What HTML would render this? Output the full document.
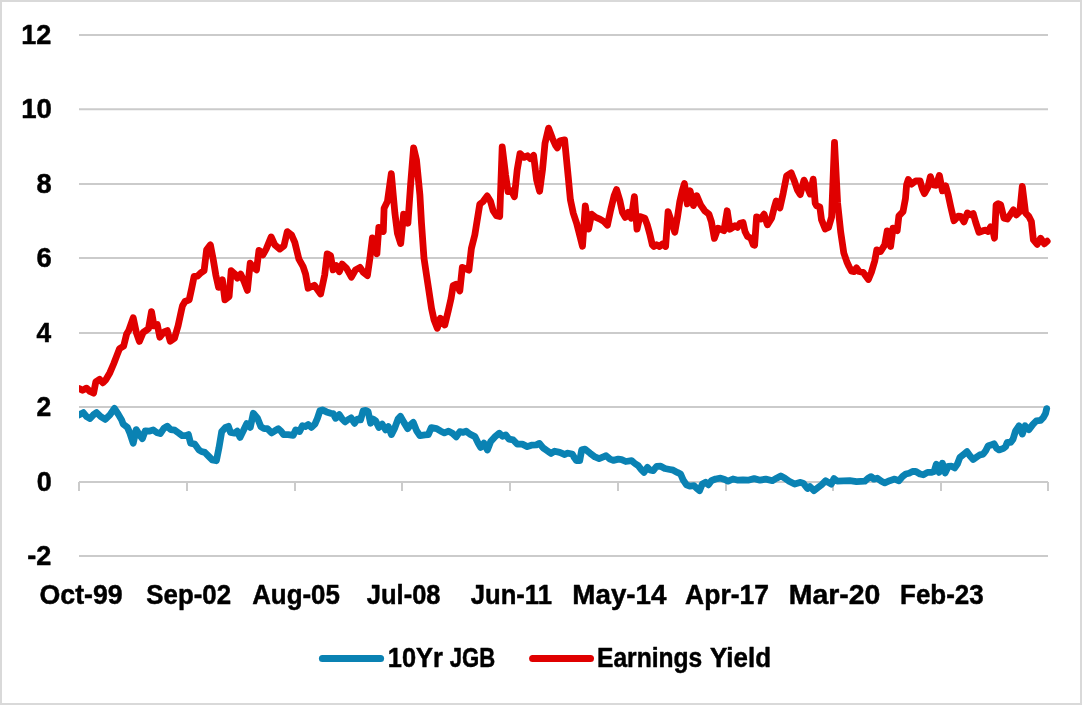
<!DOCTYPE html>
<html lang="en"><head><meta charset="utf-8"><title>10Yr JGB vs Earnings Yield</title>
<style>
html,body{margin:0;padding:0;background:#fff;}
body{width:1082px;height:705px;overflow:hidden;}
svg{display:block;}
text{font-family:"Liberation Sans",sans-serif;font-weight:bold;fill:#000;stroke:#000;stroke-width:0.5px;stroke-linejoin:round;}
</style></head><body>
<svg width="1082" height="705" viewBox="0 0 1082 705">
<defs><clipPath id="plot"><rect x="79" y="0" width="990" height="705"/></clipPath></defs>
<rect x="0" y="0" width="1082" height="705" fill="#fff"/>
<rect x="1" y="1" width="1080" height="703" fill="none" stroke="#d9d9d9" stroke-width="2"/>
<g stroke="#cbcbcb" stroke-width="2" fill="none">
<line x1="79" y1="34.9" x2="1048" y2="34.9"/>
<line x1="79" y1="109.3" x2="1048" y2="109.3"/>
<line x1="79" y1="184.1" x2="1048" y2="184.1"/>
<line x1="79" y1="258.0" x2="1048" y2="258.0"/>
<line x1="79" y1="332.9" x2="1048" y2="332.9"/>
<line x1="79" y1="407.0" x2="1048" y2="407.0"/>
<line x1="79" y1="481.9" x2="1048" y2="481.9"/>
<line x1="79" y1="556.0" x2="1048" y2="556.0"/>
<line x1="79.0" y1="481.9" x2="79.0" y2="491"/>
<line x1="187.0" y1="481.9" x2="187.0" y2="491"/>
<line x1="295.0" y1="481.9" x2="295.0" y2="491"/>
<line x1="402.0" y1="481.9" x2="402.0" y2="491"/>
<line x1="510.0" y1="481.9" x2="510.0" y2="491"/>
<line x1="618.0" y1="481.9" x2="618.0" y2="491"/>
<line x1="726.0" y1="481.9" x2="726.0" y2="491"/>
<line x1="833.0" y1="481.9" x2="833.0" y2="491"/>
<line x1="941.0" y1="481.9" x2="941.0" y2="491"/>
<line x1="1048.0" y1="481.9" x2="1048.0" y2="491"/>
</g>
<g>
<text x="21.19" y="43.70" font-size="27.3" textLength="30.11" lengthAdjust="spacingAndGlyphs">12</text>
<text x="21.16" y="118.23" font-size="27.3" textLength="30.66" lengthAdjust="spacingAndGlyphs">10</text>
<text x="36.43" y="192.76" font-size="27.3" textLength="15.17" lengthAdjust="spacingAndGlyphs">8</text>
<text x="36.49" y="267.29" font-size="27.3" textLength="15.25" lengthAdjust="spacingAndGlyphs">6</text>
<text x="36.45" y="341.82" font-size="27.3" textLength="14.66" lengthAdjust="spacingAndGlyphs">4</text>
<text x="36.52" y="416.35" font-size="27.3" textLength="14.72" lengthAdjust="spacingAndGlyphs">2</text>
<text x="36.77" y="490.88" font-size="27.3" textLength="14.99" lengthAdjust="spacingAndGlyphs">0</text>
<text x="27.17" y="565.41" font-size="27.3" textLength="24.04" lengthAdjust="spacingAndGlyphs">-2</text>
</g>
<g>
<text x="39.53" y="604.30" font-size="28.2" textLength="83.18" lengthAdjust="spacingAndGlyphs">Oct-99</text>
<text x="146.27" y="604.30" font-size="28.2" textLength="84.80" lengthAdjust="spacingAndGlyphs">Sep-02</text>
<text x="252.20" y="604.30" font-size="28.2" textLength="87.68" lengthAdjust="spacingAndGlyphs">Aug-05</text>
<text x="366.87" y="604.30" font-size="28.2" textLength="73.65" lengthAdjust="spacingAndGlyphs">Jul-08</text>
<text x="470.77" y="604.30" font-size="28.2" textLength="81.10" lengthAdjust="spacingAndGlyphs">Jun-11</text>
<text x="572.35" y="604.30" font-size="28.2" textLength="94.06" lengthAdjust="spacingAndGlyphs">May-14</text>
<text x="685.09" y="604.30" font-size="28.2" textLength="83.92" lengthAdjust="spacingAndGlyphs">Apr-17</text>
<text x="788.80" y="604.30" font-size="28.2" textLength="91.55" lengthAdjust="spacingAndGlyphs">Mar-20</text>
<text x="900.06" y="604.30" font-size="28.2" textLength="83.68" lengthAdjust="spacingAndGlyphs">Feb-23</text>
</g>
<g fill="none" stroke-width="6.8" stroke-linejoin="round" stroke-linecap="round" clip-path="url(#plot)">
<path d="M79.2 414.9 L83.3 412.6 L86.6 416.6 L90.0 418.6 L93.3 414.9 L96.6 412.6 L100.8 416.6 L105.3 419.4 L109.9 414.9 L114.4 408.3 L118.2 414.1 L121.6 419.9 L123.2 424.1 L127.4 427.4 L129.9 433.2 L133.2 443.2 L136.2 429.6 L139.0 434.1 L142.4 438.6 L145.2 430.8 L149.0 431.2 L153.2 429.9 L156.5 432.4 L160.3 433.6 L164.0 428.2 L167.3 426.3 L170.7 429.6 L174.8 430.2 L179.0 433.2 L182.3 435.7 L185.6 435.7 L188.4 434.6 L190.6 443.2 L194.8 444.1 L198.9 449.9 L201.4 451.5 L204.8 452.4 L208.9 456.5 L212.2 459.9 L216.4 460.7 L218.9 448.2 L221.7 431.6 L225.6 427.4 L228.4 426.3 L230.5 432.4 L234.7 433.2 L237.2 431.2 L240.0 437.4 L243.3 430.8 L246.7 423.6 L250.3 427.4 L253.3 413.3 L257.5 418.3 L260.8 426.6 L264.1 428.6 L267.4 428.6 L271.6 432.9 L274.9 430.8 L278.3 428.8 L281.3 431.6 L283.6 434.6 L288.2 434.6 L293.2 435.4 L295.7 429.9 L299.6 431.6 L302.4 425.8 L305.2 426.6 L308.2 424.6 L311.5 427.4 L314.9 424.1 L317.4 418.3 L319.9 410.8 L322.4 409.9 L326.5 411.9 L330.7 413.3 L333.2 413.6 L335.7 418.3 L339.3 414.6 L342.3 419.1 L345.1 421.9 L348.1 419.6 L351.1 417.9 L354.5 423.3 L357.3 419.1 L360.6 419.9 L363.1 410.8 L365.6 410.4 L368.1 411.6 L370.6 423.3 L373.1 419.1 L375.6 420.8 L378.9 427.4 L382.2 424.1 L385.6 429.9 L388.4 426.6 L391.4 434.6 L394.7 428.2 L398.0 419.1 L400.5 416.3 L403.9 422.4 L407.7 428.6 L410.5 424.9 L413.3 422.4 L416.6 430.8 L420.0 435.7 L425.0 434.9 L428.3 434.6 L431.3 427.6 L436.6 428.6 L440.8 431.2 L444.4 432.9 L448.6 431.2 L452.4 433.2 L456.2 436.9 L459.9 431.6 L463.2 432.4 L466.2 431.2 L469.9 434.1 L474.9 436.6 L478.2 443.2 L480.7 447.4 L484.0 443.2 L487.4 449.9 L490.7 441.6 L494.8 436.9 L499.3 433.2 L502.3 436.2 L505.7 434.9 L509.0 439.1 L513.1 439.9 L517.3 444.1 L522.3 444.1 L527.3 446.6 L531.4 445.2 L536.4 444.9 L539.4 443.4 L543.1 447.9 L547.2 450.7 L551.1 453.5 L554.7 451.2 L559.7 452.4 L564.7 454.5 L567.2 453.2 L572.2 454.0 L574.7 458.2 L576.4 460.7 L579.7 460.7 L581.7 449.9 L585.0 449.2 L590.0 453.2 L595.0 456.9 L599.1 458.6 L603.3 456.9 L606.1 455.7 L610.0 459.1 L613.3 460.4 L618.3 459.1 L621.6 459.6 L625.8 461.5 L631.6 460.7 L634.9 463.5 L638.2 465.7 L641.5 469.9 L644.0 472.4 L647.4 467.4 L649.9 469.9 L653.2 470.7 L656.5 466.5 L660.7 466.2 L664.8 468.5 L669.8 469.5 L673.2 470.2 L677.3 472.4 L680.6 474.0 L683.1 479.8 L686.5 484.8 L689.8 486.2 L694.0 485.7 L696.5 488.2 L699.5 490.7 L702.3 484.0 L705.6 482.3 L708.4 484.8 L711.4 480.7 L715.6 479.0 L720.6 478.2 L724.7 479.5 L728.1 481.2 L733.0 479.0 L738.0 480.2 L743.0 479.8 L748.0 480.2 L754.2 478.6 L760.0 480.2 L765.8 479.1 L772.5 480.7 L776.6 478.2 L780.8 475.9 L784.9 478.2 L789.1 481.2 L794.6 484.1 L799.9 482.4 L803.2 483.2 L807.4 488.5 L809.9 486.5 L814.0 490.7 L818.2 487.4 L821.5 484.9 L825.7 480.7 L828.2 482.4 L831.2 484.1 L834.0 478.6 L837.3 481.2 L849.8 480.7 L856.5 481.6 L864.8 481.2 L868.1 478.2 L871.1 476.6 L873.9 479.1 L877.3 478.2 L881.4 481.2 L884.8 482.9 L889.7 480.7 L894.7 479.1 L898.9 480.7 L902.5 476.5 L905.8 474.0 L909.1 473.2 L912.5 471.5 L915.8 471.5 L920.0 474.0 L923.3 474.8 L927.5 472.4 L931.6 472.4 L934.1 471.5 L936.3 464.2 L939.1 472.4 L942.4 463.2 L945.2 472.9 L948.2 466.5 L951.6 466.2 L954.6 467.9 L957.4 464.0 L959.9 457.4 L964.0 454.1 L967.0 451.6 L969.9 455.7 L973.2 459.5 L977.4 456.5 L979.9 454.9 L983.2 454.1 L985.7 450.7 L988.2 445.7 L991.5 444.9 L994.0 443.7 L996.5 448.2 L999.0 449.9 L1003.1 448.6 L1005.6 446.6 L1007.3 442.4 L1010.6 442.4 L1013.1 439.1 L1015.6 430.8 L1019.0 425.8 L1022.3 434.1 L1025.1 425.8 L1028.9 429.6 L1033.1 424.1 L1036.4 420.8 L1040.6 420.3 L1043.4 417.4 L1045.6 413.3 L1046.7 408.6" stroke="#0a82b3"/>
<path d="M79.2 388.6 L82.5 390.3 L86.6 388.1 L90.0 391.5 L93.6 393.1 L95.8 381.8 L99.6 379.3 L102.8 382.8 L105.8 379.8 L109.9 372.7 L113.6 364.0 L117.4 354.1 L119.6 348.6 L123.6 346.2 L126.6 334.1 L128.6 330.8 L133.2 317.8 L136.5 333.2 L139.4 341.4 L143.2 332.4 L146.9 329.9 L148.5 328.6 L151.5 311.6 L154.0 325.8 L157.3 324.6 L159.8 337.2 L164.0 331.9 L167.3 330.6 L170.2 341.2 L174.5 338.2 L178.1 325.8 L181.5 310.0 L182.5 305.7 L185.0 301.5 L189.2 299.8 L191.7 288.2 L194.1 276.5 L197.5 276.2 L200.8 272.9 L204.1 270.7 L206.6 249.9 L210.4 244.9 L213.3 259.9 L215.8 274.9 L218.6 287.4 L222.4 279.9 L224.9 299.8 L229.1 296.5 L231.2 270.7 L234.9 274.1 L237.4 278.2 L240.7 274.1 L244.1 281.5 L247.4 290.4 L250.2 263.2 L253.2 267.4 L256.5 269.9 L259.0 250.3 L262.9 254.9 L266.5 248.3 L271.2 236.9 L274.8 244.9 L279.8 249.1 L284.0 245.8 L287.3 231.6 L291.5 234.9 L294.8 242.4 L298.9 259.1 L303.1 266.6 L305.6 274.1 L308.1 288.2 L314.4 285.2 L320.6 294.0 L324.7 274.9 L327.2 253.8 L330.6 255.8 L333.1 269.9 L336.4 265.7 L339.4 271.6 L342.2 264.1 L346.4 268.2 L351.4 277.2 L355.5 269.9 L360.0 267.4 L363.3 272.4 L367.4 275.6 L369.9 258.3 L372.4 237.8 L374.9 241.6 L376.9 253.8 L378.8 227.5 L381.3 230.0 L383.3 231.5 L384.1 208.2 L387.4 201.6 L391.3 173.6 L394.9 213.2 L397.4 233.2 L400.7 243.6 L403.6 214.2 L407.9 223.2 L410.7 183.2 L413.6 147.8 L416.5 160.0 L419.9 194.9 L421.5 223.2 L424.0 258.3 L426.5 274.9 L429.0 291.5 L431.5 308.2 L434.0 319.8 L437.3 328.3 L440.3 318.2 L444.8 325.0 L448.1 311.5 L451.1 298.2 L453.1 285.7 L456.4 284.2 L459.8 290.9 L462.3 267.3 L465.6 268.6 L468.9 270.1 L471.4 248.3 L474.8 235.0 L479.8 204.1 L483.1 201.6 L487.2 195.9 L490.6 201.6 L493.1 210.7 L496.4 215.7 L499.7 216.5 L502.2 146.8 L505.6 174.9 L508.0 191.6 L511.4 190.7 L514.4 196.6 L517.2 169.9 L520.0 153.6 L524.2 157.4 L527.5 155.8 L530.3 158.6 L533.6 155.4 L536.6 179.9 L539.6 191.2 L542.5 169.9 L545.0 143.3 L548.6 128.1 L552.4 138.3 L555.8 145.8 L557.4 147.9 L559.9 140.8 L564.6 139.9 L568.2 176.6 L570.4 199.8 L573.3 213.2 L576.6 223.2 L580.0 236.5 L582.5 246.3 L585.3 205.8 L588.6 229.1 L591.6 214.2 L595.8 217.4 L599.9 219.1 L604.1 221.6 L607.4 225.2 L610.7 209.9 L614.1 195.8 L616.6 189.6 L619.9 200.8 L622.4 212.4 L625.2 217.4 L628.2 212.4 L631.2 218.2 L634.4 196.6 L637.0 229.2 L639.9 216.6 L644.8 218.2 L647.3 224.9 L649.8 234.0 L652.3 244.8 L654.0 246.5 L656.5 244.8 L659.5 246.5 L662.3 244.0 L665.6 246.5 L668.1 211.6 L671.5 221.6 L674.8 232.2 L677.3 218.2 L679.8 201.6 L682.3 190.8 L684.4 183.6 L687.3 203.9 L690.1 190.8 L693.4 205.6 L696.8 195.8 L700.6 204.9 L704.7 210.8 L708.9 214.1 L711.4 221.6 L714.4 238.4 L718.0 228.2 L723.9 230.7 L727.2 210.8 L730.0 229.2 L733.9 226.6 L735.0 225.7 L737.5 227.3 L740.0 223.2 L743.0 222.5 L745.0 231.5 L747.5 236.5 L750.8 238.1 L753.3 244.8 L754.6 245.2 L756.6 216.8 L760.8 219.0 L764.1 214.2 L767.4 224.8 L771.6 218.2 L774.1 208.2 L776.2 201.0 L779.9 207.9 L783.2 193.2 L786.6 175.8 L791.2 172.9 L794.0 179.9 L797.4 189.9 L800.2 194.6 L804.0 180.1 L807.4 187.4 L810.2 194.1 L813.2 179.2 L815.2 203.2 L816.5 205.7 L819.8 206.9 L821.5 219.8 L825.2 229.0 L828.5 227.5 L831.6 217.0 L834.5 142.5 L837.6 203.0 L840.7 232.0 L843.8 253.0 L846.9 262.0 L849.0 266.5 L851.5 271.2 L854.0 271.5 L856.5 267.8 L859.0 271.5 L863.1 272.3 L865.6 275.7 L868.4 279.5 L871.4 272.3 L874.8 260.7 L876.8 249.9 L880.6 251.5 L884.7 244.9 L887.2 230.9 L890.6 246.5 L893.0 228.2 L897.2 230.7 L898.9 215.8 L903.0 211.6 L905.5 198.3 L906.6 184.9 L908.3 179.6 L911.6 184.1 L915.8 180.8 L920.0 180.8 L922.4 189.1 L924.4 193.6 L927.9 187.4 L930.4 176.6 L933.2 184.9 L936.2 185.3 L939.4 175.4 L942.4 190.8 L945.7 185.8 L948.2 194.9 L950.7 206.6 L954.0 220.7 L958.2 216.2 L960.7 216.5 L964.0 221.9 L967.4 212.9 L970.7 214.9 L973.2 213.6 L975.7 222.4 L979.0 232.3 L983.2 230.7 L985.7 230.2 L988.1 231.5 L990.6 226.9 L993.1 231.5 L994.5 238.2 L996.1 204.9 L998.1 203.7 L1000.6 204.6 L1004.0 218.2 L1007.3 219.0 L1010.6 214.1 L1013.4 209.9 L1016.4 214.9 L1019.8 211.6 L1022.3 186.3 L1025.6 213.2 L1028.9 216.5 L1031.4 221.5 L1033.4 239.8 L1037.2 244.3 L1040.6 238.3 L1044.4 243.8 L1047.2 241.2" stroke="#e00000"/>
</g>
<line x1="322.4" y1="658.5" x2="380.6" y2="658.5" stroke="#0a82b3" stroke-width="7" stroke-linecap="round"/>
<line x1="532.6" y1="658.5" x2="590.5" y2="658.5" stroke="#e00000" stroke-width="7" stroke-linecap="round"/>
<g><text x="387.80" y="667.40" font-size="28.2" textLength="55.09" lengthAdjust="spacingAndGlyphs">10Yr</text><text x="449.82" y="667.40" font-size="28.2" textLength="45.45" lengthAdjust="spacingAndGlyphs">JGB</text><text x="597.05" y="667.40" font-size="28.2" textLength="105.15" lengthAdjust="spacingAndGlyphs">Earnings</text><text x="710.03" y="667.40" font-size="28.2" textLength="60.97" lengthAdjust="spacingAndGlyphs">Yield</text></g>
</svg></body></html>
